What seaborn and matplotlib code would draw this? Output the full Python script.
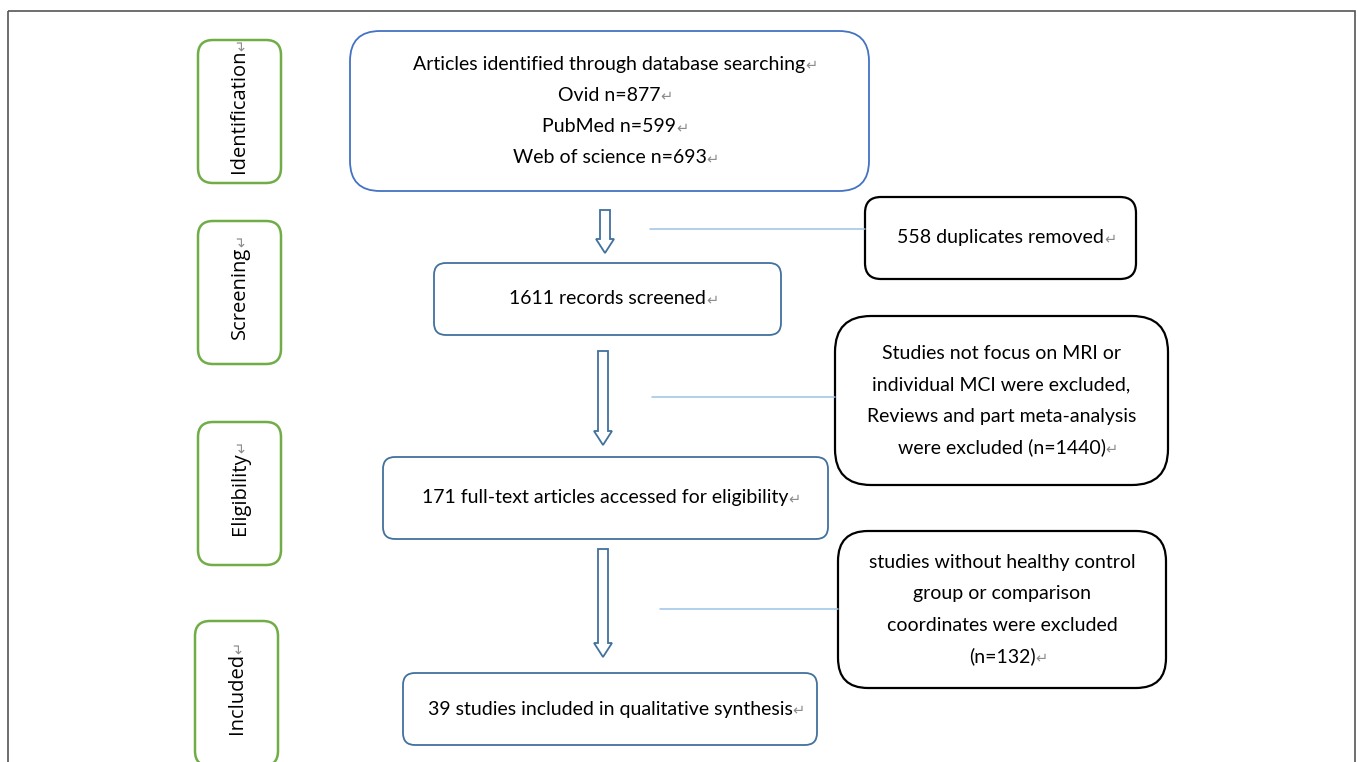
import matplotlib
matplotlib.use("Agg")
import matplotlib.pyplot as plt
import seaborn as sns
from matplotlib.patches import FancyBboxPatch, Rectangle, Polygon

sns.set_theme(style="white")
plt.rcParams["font.family"] = ["Lato", "DejaVu Sans"]

# stage labels (left column)
stages = ["Identification", "Screening", "Eligibility", "Included"]

# main flow boxes
main_text = [
    ["Articles identified through database searching", "Ovid n=877",
     "PubMed n=599", "Web of science n=693"],
    ["1611 records screened"],
    ["171 full-text articles accessed for eligibility"],
    ["39 studies included in qualitative synthesis"],
]
main_marks = [[True, True, True, True], [True], [True], [True]]

# exclusion boxes (right column)
excl_text = [
    ["558 duplicates removed"],
    ["Studies not focus on MRI or", "individual MCI were excluded,",
     "Reviews and part meta-analysis", "were excluded (n=1440)"],
    ["studies without healthy control", "group or comparison",
     "coordinates were excluded", "(n=132)"],
]
excl_marks = [[True], [False, False, False, True], [False, False, False, True]]

# layout (pixels): x0, y0, x1, y1, corner radius
stage_geo = [(198, 40, 281, 183), (198, 221, 281, 364),
             (198, 422, 281, 565), (195, 621, 278, 766)]
main_geo = [(350, 31, 869, 191, 30), (434, 263, 781, 335, 12),
            (383, 457, 828, 539, 12), (403, 673, 817, 745, 12)]
excl_geo = [(865, 197, 1136, 279, 16), (835, 316, 1168, 485, 36),
            (838, 531, 1166, 688, 30)]
arrow_geo = [(605, 210, 253), (603, 351, 445), (603, 549, 657)]
link_geo = [(650, 865, 229), (652, 835, 397), (660, 838, 609)]

W, H = 1357, 762
fig = plt.figure(figsize=(W / 100, H / 100), dpi=100)
ax = fig.add_axes([0, 0, 1, 1])
ax.set_xlim(0, W)
ax.set_ylim(H, 0)
ax.axis("off")

GREEN = "#70AD47"
BLUE1 = "#4472C4"
BLUE2 = "#41719C"
LINK = "#9DC3E6"
MARK = "#8C8C8C"

ax.add_patch(Rectangle((8, 11), 1347, 800, fill=False, ec="#555555", lw=1.2))


def rbox(x0, y0, x1, y1, r, ec, lw):
    ax.add_patch(FancyBboxPatch((x0, y0), x1 - x0, y1 - y0,
                                boxstyle=f"round,pad=0,rounding_size={r}",
                                fc="white", ec=ec, lw=lw))


pending = []  # texts that get a gray return mark after them

for (x0, y0, x1, y1), lab in zip(stage_geo, stages):
    rbox(x0, y0, x1, y1, 15, GREEN, 1.8)
    t = ax.text((x0 + x1) / 2, (y0 + y1) / 2, lab, rotation=90, ha="center",
                va="center", fontsize=14.5, color="black",
                family=["Open Sans", "DejaVu Sans"])
    pending.append((t, True))

LINE = 31.3


def box_lines(geo, lines, marks, ec, lw):
    x0, y0, x1, y1, r = geo
    rbox(x0, y0, x1, y1, r, ec, lw)
    cx, cy = (x0 + x1) / 2, (y0 + y1) / 2
    n = len(lines)
    for i, (s, m) in enumerate(zip(lines, marks)):
        y = cy + (i - (n - 1) / 2) * LINE
        t = ax.text(cx, y, s, ha="center", va="center", fontsize=14,
                    color="black")
        if m:
            pending.append((t, False))


for i, (g, lines, marks) in enumerate(zip(main_geo, main_text, main_marks)):
    box_lines(g, lines, marks, BLUE1 if i == 0 else BLUE2, 1.3)

for g, lines, marks in zip(excl_geo, excl_text, excl_marks):
    box_lines(g, lines, marks, "black", 1.6)

# hollow down arrows
for x, ya, yb in arrow_geo:
    sw, hw, hl = 5, 9, 14
    pts = [(x - sw, ya), (x + sw, ya), (x + sw, yb - hl), (x + hw, yb - hl),
           (x, yb), (x - hw, yb - hl), (x - sw, yb - hl)]
    ax.add_patch(Polygon(pts, closed=True, fc="white", ec=BLUE2, lw=1.3))

for xa, xb, y in link_geo:
    ax.plot([xa, xb], [y, y], color=LINK, lw=1.1)

# add the gray paragraph marks after each text
fig.canvas.draw()
r = fig.canvas.get_renderer()
inv = ax.transData.inverted()
for t, vertical in pending:
    bb = t.get_window_extent(r)
    if vertical:
        px, py = inv.transform(((bb.x0 + bb.x1) / 2, bb.y1))
        ax.text(px + 2, py + 1, "\u21b5", rotation=90, ha="center", va="bottom",
                fontsize=10.5, color=MARK, family=["DejaVu Sans"])
    else:
        px, py = inv.transform((bb.x1, (bb.y0 + bb.y1) / 2))
        ax.text(px, py + 1, "\u21b5", ha="left", va="center", fontsize=10.5,
                color=MARK, family=["DejaVu Sans"])

fig.savefig("out.png", dpi=100, facecolor="white")
